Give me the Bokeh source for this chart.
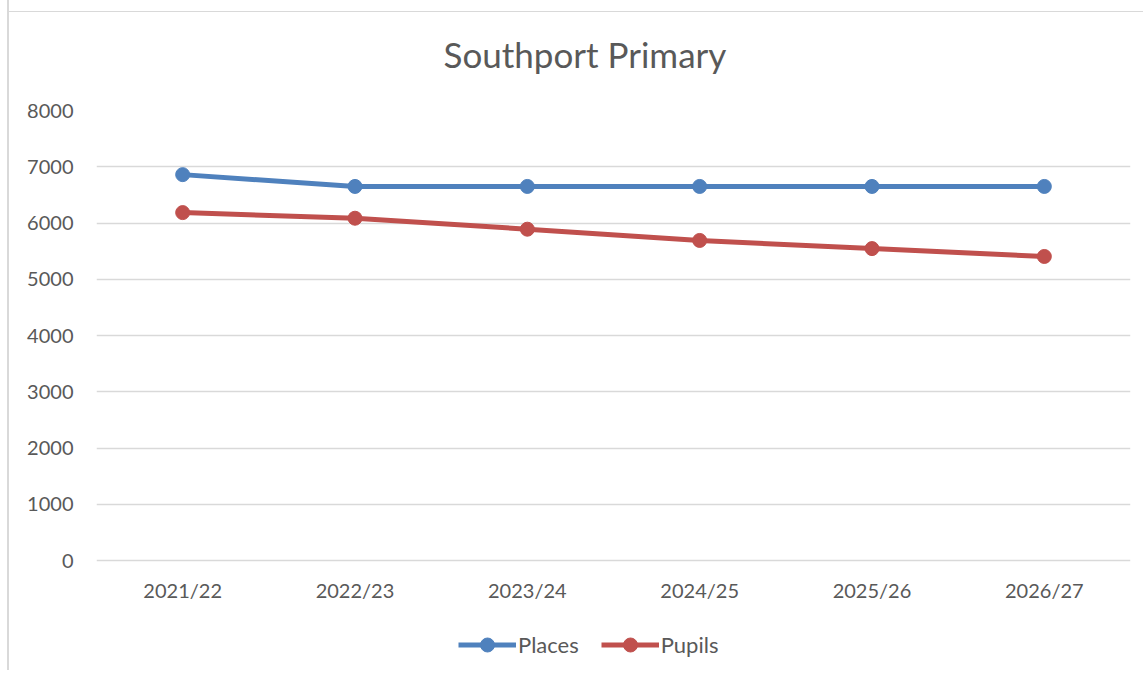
from bokeh.plotting import figure
from bokeh.models import Legend, LegendItem, FixedTicker, Range1d
from bokeh.embed import file_html
from bokeh.resources import INLINE

years = ["2021/22", "2022/23", "2023/24", "2024/25", "2025/26", "2026/27"]
places = [6860, 6650, 6650, 6650, 6650, 6650]
pupils = [6185, 6085, 5890, 5690, 5545, 5405]
y_ticks = [0, 1000, 2000, 3000, 4000, 5000, 6000, 7000, 8000]

FONT = "Lato"
GREY = "#595959"

Y_MAX = 8000
DATA_PX = 450      # pixels spanned by 0..Y_MAX
FRAME_PX = 560     # frame extends below 0 to hold x labels and legend
y_start = Y_MAX - FRAME_PX * Y_MAX / DATA_PX

p = figure(x_range=years, y_range=Range1d(y_start, Y_MAX),
           frame_width=1034, frame_height=FRAME_PX,
           output_backend="svg", toolbar_location=None,
           min_border_left=87, min_border_right=13, min_border_top=118, min_border_bottom=0)
p.border_fill_color = None
p.styles = {"border-left": "2px solid #d9d9d9",
            "background": "linear-gradient(#d9d9d9, #d9d9d9) 0 19px / 100% 1px no-repeat",
            "margin-left": "7px", "margin-top": "-8px"}

p.title.text = "Southport Primary"
p.title.align = "left"
p.title.offset = 347
p.title.text_font = FONT
p.title.text_font_size = "35px"
p.title.text_font_style = "normal"
p.title.text_color = GREY
p.title.standoff = 71

p.outline_line_color = None
p.xgrid.grid_line_color = None
p.ygrid.grid_line_color = "#d9d9d9"
p.ygrid.grid_line_width = 1.5
p.yaxis.ticker = FixedTicker(ticks=y_ticks)
p.xaxis.fixed_location = 0

for ax in (p.xaxis, p.yaxis):
    ax.axis_line_color = None
    ax.major_tick_line_color = None
    ax.minor_tick_line_color = None
    ax.major_label_text_font = FONT
    ax.major_label_text_font_size = "20px"
    ax.major_label_text_color = GREY
p.yaxis.major_label_standoff = 17
p.xaxis.major_label_standoff = 11
p.x_range.range_padding = 0

l1 = p.line(years, places, line_color="#4F81BD", line_width=5)
c1 = p.scatter(years, places, size=14, fill_color="#4F81BD", line_color="#4F81BD")
l2 = p.line(years, pupils, line_color="#C0504D", line_width=5)
c2 = p.scatter(years, pupils, size=14, fill_color="#C0504D", line_color="#C0504D")

legend = Legend(items=[LegendItem(label="Places", renderers=[l1, c1]),
                       LegendItem(label="Pupils", renderers=[l2, c2])],
                orientation="horizontal", location=(362, 8),
                label_text_font=FONT, label_text_font_size="22px", label_text_color=GREY,
                glyph_width=58, glyph_height=35, spacing=22, label_standoff=2,
                border_line_color=None, background_fill_alpha=0, margin=0, padding=0)
p.add_layout(legend, "center")

open("out.html", "w").write(file_html(p, INLINE))
